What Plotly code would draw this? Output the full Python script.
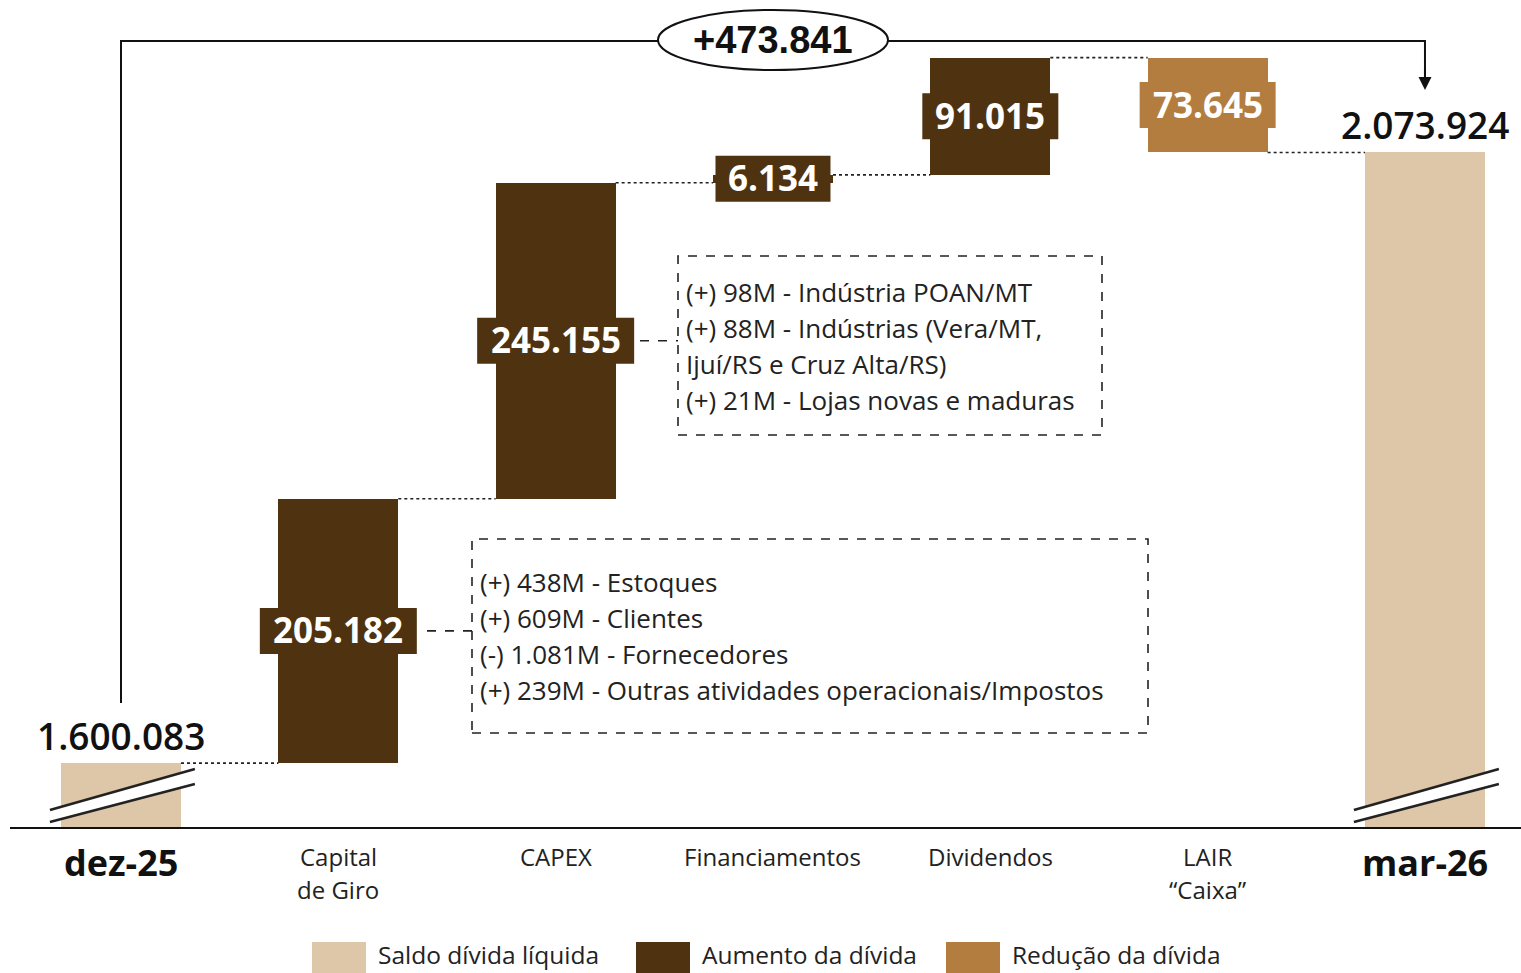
import plotly.graph_objects as go

# ---------------- data ----------------
categories = ["dez-25", "Capital<br>de Giro", "CAPEX", "Financiamentos", "Dividendos", "LAIR<br>“Caixa”", "mar-26"]
start_value = 1600083
deltas = [205182, 245155, 6134, 91015, -73645]
end_value = 2073924
legend_labels = ["Saldo dívida líquida", "Aumento da dívida", "Redução da dívida"]
capex_notes = ["(+) 98M - Indústria POAN/MT",
               "(+) 88M - Indústrias (Vera/MT,",
               "Ijuí/RS e Cruz Alta/RS)",
               "(+) 21M - Lojas novas e maduras"]
wc_notes = ["(+) 438M - Estoques",
            "(+) 609M - Clientes",
            "(-) 1.081M - Fornecedores",
            "(+) 239M - Outras atividades operacionais/Impostos"]
axis_floor = 1550500
axis_top = 2192250

# ---------------- style ----------------
C_TOTAL = "#dec6a9"
C_UP = "#4f3310"
C_DOWN = "#b37d40"
FONT = "Open Sans"
W, H = 1521, 973
ML, MR, MT, MB = 10, 0, 0, 146
PLOT_H = H - MT - MB
X_LEFT_PX, X_STEP_PX = 121, 217.33
BAR_W = 0.552


def fmt(v):
    return f"{v:,}".replace(",", ".")


def px2x(p):
    return (p - X_LEFT_PX) / X_STEP_PX


def py2paper(p):
    return (PLOT_H + MT - p) / PLOT_H


def px2paper(p):
    return (p - ML) / (W - ML - MR)


# ---------------- waterfall geometry ----------------
n = len(categories)
xs = list(range(n))
bases, heights, colors = [], [], []
bases.append(axis_floor); heights.append(start_value - axis_floor); colors.append(C_TOTAL)
levels = [start_value]
cum = start_value
for d in deltas:
    lo = min(cum, cum + d)
    bases.append(lo); heights.append(abs(d)); colors.append(C_UP if d > 0 else C_DOWN)
    cum += d
    levels.append(cum)
bases.append(axis_floor); heights.append(end_value - axis_floor); colors.append(C_TOTAL)

fig = go.Figure()
fig.add_trace(go.Bar(x=xs, base=bases, y=heights, marker=dict(color=colors, line=dict(width=0)),
                     width=BAR_W, showlegend=False, hoverinfo="skip"))

shapes = []
annotations = []

# connectors between bars
for i in range(n - 1):
    lvl = levels[i]
    shapes.append(dict(type="line", xref="x", yref="y", x0=i + BAR_W / 2, x1=i + 1 - BAR_W / 2,
                       y0=lvl, y1=lvl, line=dict(color="#222", width=1.6, dash="dot")))

# value labels on delta bars (box sized in pixels around the text)
for i, d in enumerate(deltas, start=1):
    mid = bases[i] + heights[i] / 2
    label = fmt(abs(d))
    ndig = sum(ch.isdigit() for ch in label)
    bw = 21 * ndig + 31
    shapes.append(dict(type="rect", xref="x", yref="y", xsizemode="pixel", ysizemode="pixel",
                       xanchor=i, yanchor=mid, x0=-bw / 2, x1=bw / 2, y0=-23, y1=23,
                       fillcolor=colors[i], line=dict(width=0), layer="above"))
    annotations.append(dict(x=i, y=mid, xref="x", yref="y", text=f"<b>{label}</b>", showarrow=False,
                            font=dict(family=FONT, size=35, color="white"),
                            xanchor="center", yanchor="middle", yshift=1))

# total labels
for i, v in [(0, start_value), (n - 1, end_value)]:
    annotations.append(dict(x=i, y=v, xref="x", yref="y", text=fmt(v), showarrow=False,
                            font=dict(family=FONT, size=37, color="#111", weight=600),
                            xanchor="center", yanchor="middle", yshift=28))

# broken-axis slashes on total bars
for i in (0, n - 1):
    xa, xb = i - 0.327, i + 0.34
    u0, u1 = py2paper(810), py2paper(769)
    l0, l1 = py2paper(822), py2paper(784)
    shapes.append(dict(type="path", xref="x", yref="paper",
                       path=f"M {xa},{u0} L {xb},{u1} L {xb},{l1} L {xa},{l0} Z",
                       fillcolor="white", line=dict(width=0)))
    shapes.append(dict(type="line", xref="x", yref="paper", x0=xa, y0=u0, x1=xb, y1=u1,
                       line=dict(color="#222", width=2.5)))
    shapes.append(dict(type="line", xref="x", yref="paper", x0=xa, y0=l0, x1=xb, y1=l1,
                       line=dict(color="#222", width=2.5)))

# top bracket with total change
y_br = py2paper(41)
shapes.append(dict(type="path", xref="x", yref="paper",
                   path=f"M 0,{py2paper(703)} L 0,{y_br} L {n - 1},{y_br} L {n - 1},{py2paper(80)}",
                   line=dict(color="#111", width=2)))
annotations.append(dict(x=n - 1, y=py2paper(90), xref="x", yref="paper", ax=0, ay=-22, axref="pixel",
                        ayref="pixel", showarrow=True, arrowhead=2, arrowsize=1.3, arrowwidth=2,
                        arrowcolor="#111", text=""))
shapes.append(dict(type="circle", xref="x", yref="paper", x0=px2x(658), x1=px2x(888),
                   y0=py2paper(70), y1=py2paper(10), fillcolor="white", line=dict(color="#111", width=2)))
annotations.append(dict(x=3, y=py2paper(40), xref="x", yref="paper", showarrow=False,
                        xanchor="center", yanchor="middle",
                        text=f"<b>+{fmt(end_value - start_value)}</b>",
                        font=dict(family="Liberation Sans", size=38, color="#111")))

# note boxes
def note_box(x0p, x1p, y0p, y1p, conn_x0p, bar_idx, lines, first_line_px, text_x_px):
    shapes.append(dict(type="rect", xref="x", yref="paper", x0=px2x(x0p), x1=px2x(x1p),
                       y0=py2paper(y1p), y1=py2paper(y0p), line=dict(color="#222", width=1.6, dash="dash")))
    mid = bases[bar_idx] + heights[bar_idx] / 2
    shapes.append(dict(type="line", xref="x", yref="y", x0=px2x(conn_x0p), x1=px2x(x0p), y0=mid, y1=mid,
                       line=dict(color="#222", width=1.6, dash="dash")))
    for k, t in enumerate(lines):
        annotations.append(dict(x=px2x(text_x_px), y=py2paper(first_line_px + 36 * k), xref="x", yref="paper",
                                text=t, showarrow=False, xanchor="left", yanchor="middle",
                                font=dict(family=FONT, size=26, color="#222")))

note_box(678, 1102, 256, 435, 640, 2, capex_notes, 292, 684)
note_box(472, 1148, 539, 733, 427, 1, wc_notes, 582, 478)

# category labels
for i, c in enumerate(categories):
    if i in (0, n - 1):
        annotations.append(dict(x=i, y=py2paper(862), xref="x", yref="paper", text=c,
                                showarrow=False, font=dict(family=FONT, size=36, color="#111", weight=700),
                                xanchor="center", yanchor="middle"))
    else:
        for k, part in enumerate(c.split("<br>")):
            annotations.append(dict(x=i, y=py2paper(856 + 34 * k), xref="x", yref="paper", text=part,
                                    showarrow=False, font=dict(family=FONT, size=24, color="#222"),
                                    xanchor="center", yanchor="middle"))

# legend
leg_sq = [312, 636, 946]
leg_cols = [C_TOTAL, C_UP, C_DOWN]
for sx, col, lab in zip(leg_sq, leg_cols, legend_labels):
    shapes.append(dict(type="rect", xref="paper", yref="paper", x0=px2paper(sx), x1=px2paper(sx + 54),
                       y0=py2paper(990), y1=py2paper(942), fillcolor=col, line=dict(width=0)))
    annotations.append(dict(x=px2paper(sx + 64), y=py2paper(955), xref="paper", yref="paper", text=lab,
                            showarrow=False, xanchor="left", yanchor="middle",
                            font=dict(family=FONT, size=24.5, color="#222")))

fig.update_layout(
    width=W, height=H, margin=dict(l=ML, r=MR, t=MT, b=MB),
    paper_bgcolor="white", plot_bgcolor="white",
    xaxis=dict(range=[px2x(ML), px2x(W - MR)], showgrid=False, zeroline=False, showticklabels=False,
               ticks="", showline=True, linecolor="#111", linewidth=2, fixedrange=True),
    yaxis=dict(range=[axis_floor, axis_top], showgrid=False, zeroline=False, showticklabels=False,
               ticks="", showline=False, fixedrange=True),
    shapes=shapes, annotations=annotations, bargap=0, showlegend=False,
)

fig.write_html("out.html", config={"displayModeBar": False},
               post_script="document.body.style.margin='0';document.body.style.overflow='hidden';")
